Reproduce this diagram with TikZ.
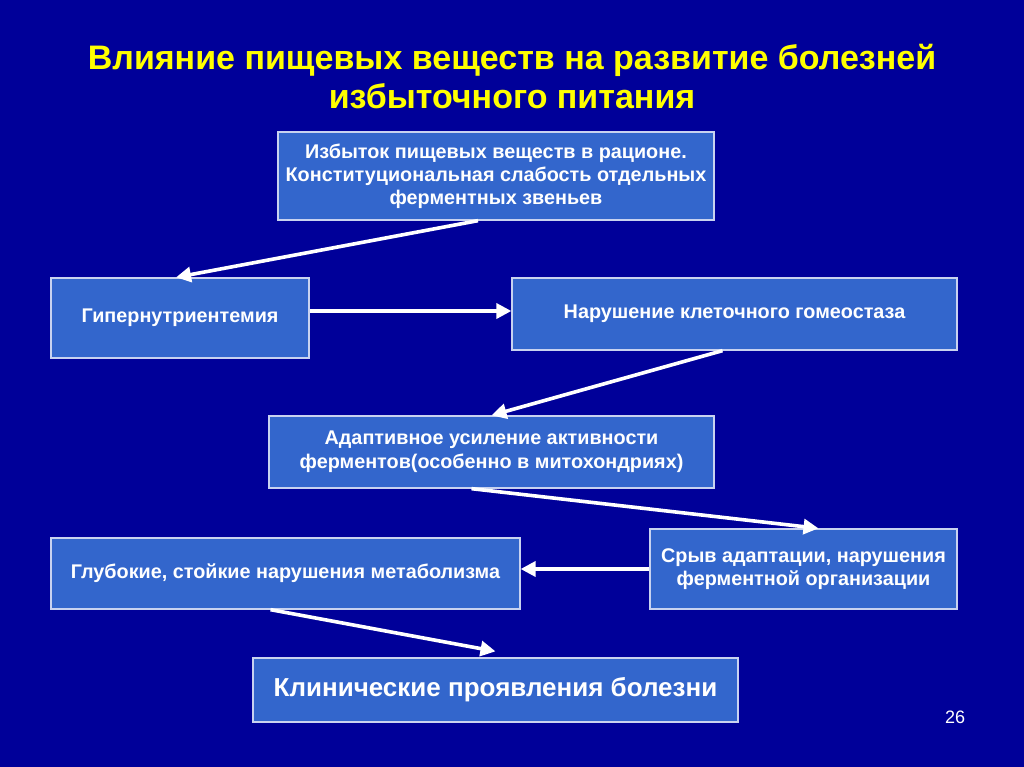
\documentclass[tikz,border=0pt]{standalone}
\usepackage{fontspec}
\setmainfont{Liberation Sans}
\usetikzlibrary{arrows.meta}
\definecolor{slidebg}{HTML}{000099}
\definecolor{boxfill}{HTML}{3366CC}
\definecolor{boxline}{HTML}{C8D2F0}
\definecolor{titleyel}{HTML}{FFFF00}
\begin{document}
\begin{tikzpicture}[x=1pt, y=-1pt,
  box/.style={draw=boxline, line width=1.3pt, fill=boxfill, text=white, align=center,
    font=\bfseries\fontsize{19.8}{23}\selectfont, inner sep=0pt},
  arr/.style={white, line width=3.6pt, -{Triangle[length=15pt, width=15pt]}}]
  \fill[slidebg] (0, 0) rectangle (1024, 767);
  \useasboundingbox (0, 0) rectangle (1024, 767);

  \node[text=titleyel, align=center, font=\bfseries\fontsize{34}{39}\selectfont] (title) at (512, 77)
    {Влияние пищевых веществ на развитие болезней\\избыточного питания};

  \node[box, minimum width=436pt, minimum height=88pt] (excess) at (496, 176)
    {Избыток пищевых веществ в рационе.\\Конституциональная слабость отдельных\\ферментных звеньев};
  \node[box, minimum width=258pt, minimum height=80pt] (hyper) at (180, 318) {Гипернутриентемия};
  \node[box, minimum width=445pt, minimum height=72pt] (homeo) at (734.5, 314) {Нарушение клеточного гомеостаза};
  \node[box, minimum width=445pt, minimum height=72pt, font=\bfseries\fontsize{19.8}{24}\selectfont] (adapt) at (491.5, 452)
    {Адаптивное усиление активности\\ферментов(особенно в митохондриях)};
  \node[box, minimum width=307pt, minimum height=80pt] (failure) at (803.5, 569)
    {Срыв адаптации, нарушения\\ферментной организации};
  \node[box, minimum width=469pt, minimum height=71pt] (metab) at (285.5, 573.5)
    {Глубокие, стойкие нарушения метаболизма};
  \node[box, minimum width=485pt, minimum height=64pt, font=\bfseries\fontsize{26}{30}\selectfont] (clinic) at (495.5, 690)
    {Клинические проявления болезни};

  \node[text=white, font=\fontsize{18}{20}\selectfont] (page) at (955, 717) {26};

  \draw[arr] ([xshift=-18pt]excess.south) -- ([xshift=-4pt]hyper.north);
  \draw[arr] ([yshift=7pt]hyper.east) coordinate (a2) -- (a2 -| homeo.west);
  \draw[arr] ([xshift=-12pt]homeo.south) -- (adapt.north);
  \draw[arr] ([xshift=-20pt]adapt.south) -- ([xshift=15pt]failure.north);
  \draw[arr] (failure.west) -- (failure.west -| metab.east);
  \draw[arr] ([xshift=-15pt]metab.south) -- ([yshift=6pt]clinic.north);
\end{tikzpicture}
\end{document}
